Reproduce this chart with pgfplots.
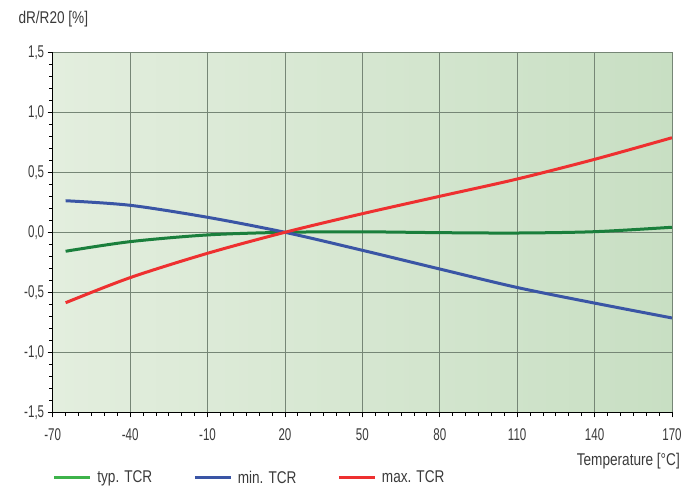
\documentclass[border=0pt]{standalone}
\usepackage{fontspec}
\setmainfont{Liberation Sans}[FakeStretch=0.8]
\newfontfamily\numfont{Liberation Sans}[FakeStretch=0.68]
\usepackage{pgfplots}
\pgfplotsset{compat=1.18}

\definecolor{bgL}{HTML}{E3EEDE}
\definecolor{bgM}{HTML}{CEE2CA}
\definecolor{bgR}{HTML}{C8DFC3}
\definecolor{gridc}{HTML}{768676}
\definecolor{txt}{HTML}{3A3A3A}
\definecolor{typc}{HTML}{1A7F3C}
\definecolor{typl}{HTML}{3DB34A}
\definecolor{minc}{HTML}{3A55A5}
\definecolor{maxc}{HTML}{EE3030}

\begin{document}
\begin{tikzpicture}[font=\fontsize{17}{20}\selectfont, text=txt]
\useasboundingbox (-52.7pt,-73.7pt) rectangle (644.3pt,412.3pt);
\begin{axis}[
  at={(0pt,0pt)}, anchor=south west,
  scale only axis,
  width=619.3pt, height=360pt,
  xmin=-70, xmax=170, ymin=-1.5, ymax=1.5,
  xtick={-70,-40,...,170},
  ytick={-1.5,-1,...,1.5},
  minor x tick num=5,
  minor y tick num=4,
  axis lines=left,
  axis line style={-, black, line width=0.8pt},
  tick align=outside,
  major tick length=5pt,
  minor tick length=3.5pt,
  tick style={black, line width=0.8pt},
  grid=major,
  major grid style={gridc, line width=0.8pt},
  axis background/.style={left color=bgL, middle color=bgM, right color=bgR},
  tick label style={font=\numfont\fontsize{17}{20}\selectfont, text=txt},
  /pgf/number format/assume math mode=true,
  yticklabel style={/pgf/number format/.cd, use comma, fixed, fixed zerofill, precision=1},
  xticklabel style={yshift=-8pt, /pgf/number format/.cd, fixed},
  legend columns=-1,
  legend style={at={(axis description cs:0,0)}, anchor=west,
    yshift=-65.4pt, draw=none, fill=none, inner sep=0pt,
    /tikz/every even column/.append style={column sep=39pt}},
  legend image code/.code={\draw[line width=3pt] (0pt,0pt) -- (36pt,0pt);
    \path[draw=none] (0pt,0pt) -- (41pt,0pt);},
]
\addplot[typc, line width=3pt, smooth, forget plot] coordinates {
  (-65,-0.158) (-40,-0.078) (-10,-0.022) (20,0) (50,0.004)
  (80,-0.003) (110,-0.006) (140,0.005) (170,0.042)};
\addplot[minc, line width=3pt, smooth, forget plot] coordinates {
  (-65,0.263) (-40,0.225) (-10,0.125) (20,0) (50,-0.15)
  (80,-0.306) (110,-0.46) (140,-0.59) (170,-0.714)};
\addplot[maxc, line width=3pt, smooth, forget plot] coordinates {
  (-65,-0.587) (-40,-0.378) (-10,-0.175) (20,0) (50,0.155)
  (80,0.30) (110,0.444) (140,0.608) (170,0.788)};
\addlegendimage{typl}
\addlegendentry{typ. TCR}
\addlegendimage{minc}
\addlegendentry{min. TCR}
\addlegendimage{maxc}
\addlegendentry{max. TCR}
\end{axis}
\node[anchor=base west] at (-37.7pt,389pt) {dR/R20 [\%]};
\node[anchor=base east, inner sep=0pt] at (627.3pt,-53.7pt) {Temperature [°C]};
\end{tikzpicture}
\end{document}
